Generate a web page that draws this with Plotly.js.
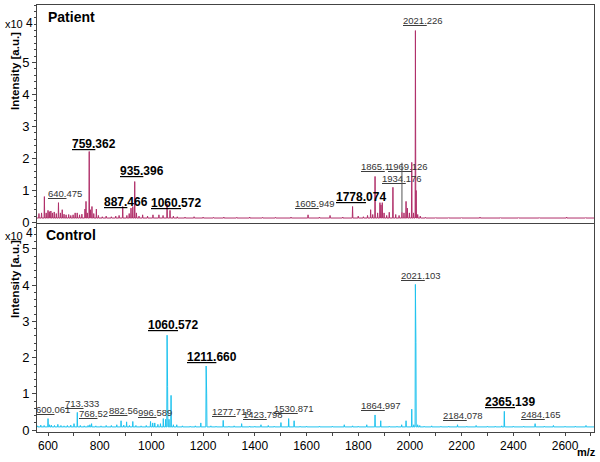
<!DOCTYPE html>
<html>
<head>
<meta charset="utf-8">
<script src="https://cdn.plot.ly/plotly-3.0.1.min.js"></script>
<style>html,body{margin:0;padding:0;background:#fff;}#chart{width:600px;height:462px;}</style>
</head>
<body>
<div id="chart"></div>
<script>
// ---------------- DATA ----------------
// Patient spectrum: peak positions (m/z) and intensities (x10^4 a.u.)
const patientMz = [565,575,586,593,600,605,611,617,624,632,640.5,648,655,662,670,680,688,697,705,713,722,731,743,747,752,759.4,764,770,777,787,795,
  810,825,845,862,875,889,905,914,921,928,935.4,942,952,966,985,1006,1029,1045,1060.6,1072,1085,1100,1130,1165,1200,1240,1280,1330,1380,1430,1480,1540,
  1605.9,1650,1691,1740,1778.1,1800,1820,1836,1848,1856,1865.1,1875,1884,1888,1893,1900,1910,1920,1934.2,1945,1958,1969.1,1977,1985,1990,1998,2007,2014,
  2021.2,2024,2030,2040,2060,2100,2150,2200,2271,2350,2420,2500,2606,2680];
const patientInt = [0.28,0.3,0.81,0.3,0.38,0.34,0.36,0.3,0.33,0.28,0.62,0.3,0.4,0.26,0.24,0.25,0.22,0.24,0.3,0.3,0.24,0.26,0.42,0.66,0.3,2.22,0.4,0.5,0.28,0.42,0.22,
  0.18,0.2,0.18,0.2,0.22,0.5,0.22,0.28,0.45,0.5,1.28,0.3,0.2,0.24,0.2,0.24,0.24,0.22,0.58,0.38,0.2,0.18,0.17,0.18,0.17,0.16,0.17,0.16,0.17,0.16,0.16,0.17,
  0.24,0.17,0.22,0.17,0.5,0.2,0.18,0.22,0.4,0.25,1.44,0.3,0.62,0.55,0.62,0.3,0.22,0.32,1.1,0.25,0.22,0.32,0.3,0.66,0.45,0.3,1.88,0.3,
  6.0,1.0,0.25,0.2,0.16,0.15,0.15,0.15,0.17,0.15,0.15,0.15,0.17,0.15];
const patientBaseline = 0.14;

// Control spectrum
const controlMz = [560,572,585,600.1,606,613,625,638,650,662,675,688,700.6,713.3,725,740,755,762,768.5,785,805,825,845,866,882.6,893,904,915,928,940,960,980,
  996.6,1005,1013,1025,1035,1046,1055,1060.6,1062.6,1068,1076,1085,1098,1120,1150,1170,1191,1211.7,1213.7,1230,1250,1277.7,1300,1320,1349,1380,1400,
  1423.8,1452,1475,1501,1530.9,1552,1575,1600,1650,1700,1746,1778,1800,1833,1865,1887,1920,1950,1968,1985,2007,2015,2021.1,2023.1,2030,2038,2055,2084,
  2120,2150,2184.1,2220,2256,2300,2330,2355,2365.1,2400,2440,2484.2,2520,2555,2600,2640,2681];
const controlInt = [0.12,0.14,0.13,0.32,0.15,0.14,0.13,0.16,0.13,0.12,0.13,0.14,0.18,0.49,0.13,0.12,0.13,0.15,0.18,0.12,0.12,0.13,0.13,0.15,0.26,0.14,0.23,0.13,0.24,0.13,0.12,0.13,
  0.24,0.2,0.2,0.16,0.18,0.32,0.3,2.62,1.2,0.3,0.96,0.15,0.15,0.12,0.11,0.12,0.2,1.77,1.0,0.12,0.11,0.27,0.11,0.12,0.18,0.11,0.11,
  0.15,0.13,0.11,0.21,0.32,0.26,0.11,0.11,0.11,0.11,0.15,0.12,0.11,0.15,0.42,0.26,0.11,0.11,0.15,0.26,0.58,0.15,4.02,2.42,0.15,0.13,0.11,0.12,
  0.11,0.11,0.15,0.11,0.13,0.11,0.11,0.12,0.52,0.11,0.11,0.18,0.11,0.13,0.11,0.11,0.13];
const controlBaseline = 0.09;

// Peak labels
const patientLabels = ["640.475","759.362","887.466","935.396","1060.572","1605.949","1778.074","1865.1","1934.176","1969.126","2021.226"];
const controlLabels = ["600.061","713.333","768.52","882.56","996.589","1060.572","1211.660","1277.718","1423.798","1530.871","1864.997","2021.103","2184.078","2365.139","2484.165"];

// x axis ticks
const xTickVals = [600,800,1000,1200,1400,1600,1800,2000,2200,2400,2600];
const yTickVals = [0,1,2,3,4,5];

// ---------------- STYLE / LAYOUT ----------------
const FONT = "Liberation Sans, Arial, sans-serif";
const patientColor = "#b0306a";
const controlColor = "#1ec3ef";

// label styling & pixel offsets (dx right, dy up) from peak apex; 4th entry = leader line length
const patientLabelStyle = {
  "640.475":[6.5,8.9,false], "759.362":[4.8,7.7,true], "887.466":[3.2,5,true], "935.396":[7.3,11,true],
  "1060.572":[8.6,1.4,true], "1605.949":[6.9,11,false], "1778.074":[8,10,true], "1865.1":[0,10,false],
  "1934.176":[8.8,9.2,false], "1969.126":[5.6,45.8,false,51.5], "2021.226":[7.6,9.7,false]
};
const controlLabelStyle = {
  "600.061":[5,9.4,false], "713.333":[4.4,8.9,false], "768.52":[1.7,10.2,false], "882.56":[2.2,9.9,false],
  "996.589":[4.2,9,false], "1060.572":[5.7,10.2,true], "1211.660":[5.6,9,true], "1277.718":[8.8,8.9,false],
  "1423.798":[2.5,9.9,false], "1530.871":[5.6,10.4,false], "1864.997":[5.7,9.1,false], "2021.103":[5.8,9.4,false],
  "2184.078":[5.8,9.6,false], "2365.139":[5.7,9.8,true], "2484.165":[5.4,9.2,false]
};

const xRange = [557.4, 2712];

function buildStick(mz, inten, base) {
  const xs = [xRange[0]], ys = [base];
  for (let i = 0; i < mz.length; i++) {
    xs.push(mz[i] - 1.2, mz[i], mz[i] + 1.2);
    ys.push(base, inten[i], base);
  }
  xs.push(xRange[1]); ys.push(base);
  return {xs, ys};
}
function nearestHeight(mz, inten, m) {
  let best = 0, d = Infinity;
  for (let i = 0; i < mz.length; i++) { const dd = Math.abs(mz[i] - m); if (dd < d) { d = dd; best = i; } }
  return inten[best];
}
function labelText(t) {
  const p = t.split(".");
  return '<span style="text-decoration:underline">' + p[0] + '.</span>' + p[1];
}
function peakAnnotations(labels, styleMap, mz, inten, xref, yref) {
  const out = [];
  labels.forEach(t => {
    const s = styleMap[t];
    const m = parseFloat(t);
    const h = nearestHeight(mz, inten, m);
    const bold = s[2];
    out.push({
      x: m, y: h, xref: xref, yref: yref,
      text: bold ? '<b>' + labelText(t) + '</b>' : labelText(t),
      font: {family: FONT, size: bold ? 12 : 9.5, color: bold ? "#000" : "#333"},
      xanchor: "center", yanchor: "middle",
      showarrow: false, xshift: s[0], yshift: s[1]
    });
    if (s[3]) {
      out.push({
        x: m, y: h, xref: xref, yref: yref, text: " ", showarrow: true,
        ax: 0, ay: -s[3], arrowhead: 0, arrowwidth: 1, arrowcolor: "#555", standoff: 0,
        font: {family: FONT, size: 1}
      });
    }
  });
  return out;
}

const W = 600, H = 462, L = 37, R = 6, T = 5, B = 30;
const pw = W - L - R, ph = H - T - B;
const px = x => (x - L) / pw;
const py = y => (H - B - y) / ph;

const pat = buildStick(patientMz, patientInt, patientBaseline);
const con = buildStick(controlMz, controlInt, controlBaseline);

const traces = [
  {x: pat.xs, y: pat.ys, type: "scatter", mode: "lines", xaxis: "x", yaxis: "y",
   line: {color: patientColor, width: 1}, hoverinfo: "skip", showlegend: false},
  {x: con.xs, y: con.ys, type: "scatter", mode: "lines", xaxis: "x2", yaxis: "y2",
   line: {color: controlColor, width: 1}, hoverinfo: "skip", showlegend: false}
];

const axisLine = "#444";
const yCommon = {
  showline: true, linecolor: axisLine, linewidth: 1, mirror: true,
  showgrid: false, zeroline: false, ticks: "outside", ticklen: 4, tickcolor: axisLine,
  tickvals: yTickVals, tickfont: {family: FONT, size: 13, color: "#000"},
  minor: {ticks: "outside", ticklen: 2, dtick: 0.2, tick0: 0, tickcolor: axisLine, showgrid: false}
};

const annotations = [
  ...peakAnnotations(patientLabels, patientLabelStyle, patientMz, patientInt, "x", "y"),
  ...peakAnnotations(controlLabels, controlLabelStyle, controlMz, controlInt, "x2", "y2"),
  {text: "<b>Patient</b>", xref: "paper", yref: "paper", x: px(46), y: py(17.3), xanchor: "left", yanchor: "middle",
   showarrow: false, font: {family: FONT, size: 14, color: "#000"}},
  {text: "<b>Control</b>", xref: "paper", yref: "paper", x: px(44.3), y: py(235), xanchor: "left", yanchor: "middle",
   showarrow: false, font: {family: FONT, size: 14, color: "#000"}},
  {text: "x10", xref: "paper", yref: "paper", x: px(14), y: py(24), xanchor: "center", yanchor: "middle",
   showarrow: false, font: {family: FONT, size: 11, color: "#000"}},
  {text: "4", xref: "paper", yref: "paper", x: px(29.5), y: py(22.5), xanchor: "center", yanchor: "middle",
   showarrow: false, font: {family: FONT, size: 12, color: "#000"}},
  {text: "x10", xref: "paper", yref: "paper", x: px(14), y: py(236), xanchor: "center", yanchor: "middle",
   showarrow: false, font: {family: FONT, size: 11, color: "#000"}},
  {text: "4", xref: "paper", yref: "paper", x: px(29.5), y: py(233), xanchor: "center", yanchor: "middle",
   showarrow: false, font: {family: FONT, size: 12, color: "#000"}},
  {text: "<b>Intensity [a.u.]</b>", xref: "paper", yref: "paper", x: px(15), y: py(71), textangle: -90,
   xanchor: "center", yanchor: "middle", showarrow: false, font: {family: FONT, size: 11.5, color: "#000"}},
  {text: "<b>Intensity [a.u.]</b>", xref: "paper", yref: "paper", x: px(15), y: py(279), textangle: -90,
   xanchor: "center", yanchor: "middle", showarrow: false, font: {family: FONT, size: 11.5, color: "#000"}},
  {text: "<b>m/z</b>", xref: "paper", yref: "paper", x: px(586), y: py(452), xanchor: "center", yanchor: "middle",
   showarrow: false, font: {family: FONT, size: 11, color: "#000"}}
];

const layout = {
  width: W, height: H,
  margin: {l: L, r: R, t: T, b: B, pad: 0},
  paper_bgcolor: "#fff", plot_bgcolor: "#fff",
  showlegend: false,
  xaxis: {domain: [0, 1], anchor: "y", range: xRange, showticklabels: false, ticks: "",
          showline: true, linecolor: axisLine, linewidth: 1, mirror: true, showgrid: false, zeroline: false},
  yaxis: Object.assign({}, yCommon, {domain: [py(222.5), 1], anchor: "x", range: [0, 6.8]}),
  xaxis2: {domain: [0, 1], anchor: "y2", range: xRange, tickvals: xTickVals, ticks: "outside", ticklen: 3,
           tickcolor: axisLine, showline: true, linecolor: axisLine, linewidth: 1, mirror: true,
           showgrid: false, zeroline: false, tickfont: {family: FONT, size: 12, color: "#000"},
           minor: {ticks: "outside", ticklen: 3, dtick: 100, tick0: 0, tickcolor: axisLine, showgrid: false}},
  yaxis2: Object.assign({}, yCommon, {domain: [0, py(223.5)], anchor: "x2", range: [-0.05, 5.7]}),
  annotations: annotations
};

Plotly.newPlot("chart", traces, layout, {displayModeBar: false, staticPlot: true});
</script>
</body>
</html>
